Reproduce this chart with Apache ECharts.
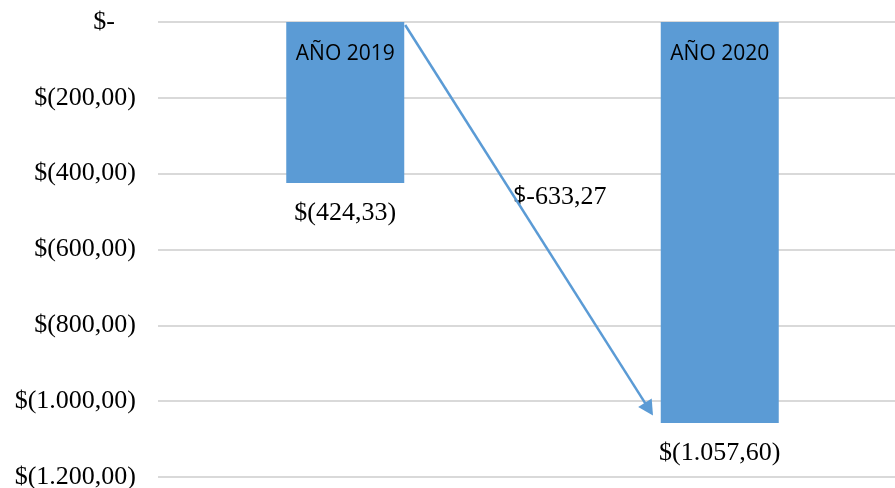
<!DOCTYPE html>
<html>
<head>
<meta charset="utf-8">
<script src="https://cdn.jsdelivr.net/npm/echarts@6/dist/echarts.min.js"></script>
<style>
  html, body { margin: 0; padding: 0; background: #fff; }
  #chart { width: 895px; height: 488px; }
</style>
</head>
<body>
<div id="chart"></div>
<script>
// data
const categories = ['AÑO 2019', 'AÑO 2020'];
const values = [-424.33, -1057.60];
const yTickValues = [0, -200, -400, -600, -800, -1000, -1200];
const yTickLabels = ['$-', '$(200,00)', '$(400,00)', '$(600,00)', '$(800,00)', '$(1.000,00)', '$(1.200,00)'];
// arrow between the two years, in [category position, value]
const arrowFrom = [0.16, -8];
const arrowTo = [0.811, -1021];
const changeLabelAt = [0.573, -461];

const BLUE = '#5b9bd5';
const SERIF = '"Liberation Serif", "Times New Roman", serif';
const SANS = '"Open Sans", "Liberation Sans", sans-serif';

const money = v => {
  const abs = Math.abs(v).toFixed(2).split('.');
  const int = abs[0].replace(/\B(?=(\d{3})+(?!\d))/g, '.');
  return int + ',' + abs[1];
};

const change = values[1] - values[0];

const chart = echarts.init(document.getElementById('chart'));

const option = {
  animation: false,
  grid: { left: 158, top: 22, right: -12, bottom: 11, outerBoundsMode: 'none', containLabel: false },
  xAxis: [
    {
      type: 'category',
      data: categories,
      position: 'top',
      z: 10,
      axisLine: { show: false },
      axisTick: { show: false },
      axisLabel: {
        inside: true,
        margin: 22,
        fontFamily: SANS,
        fontSize: 21,
        color: '#000'
      }
    },
    { type: 'value', min: -0.5, max: 1.5, show: false }
  ],
  yAxis: {
    type: 'value',
    min: -1200,
    max: 0,
    interval: 200,
    axisLine: { show: false },
    axisTick: { show: false },
    splitLine: { lineStyle: { color: '#d9d9d9', width: 2 } },
    axisLabel: {
      margin: 22,
      fontFamily: SERIF,
      fontSize: 26,
      color: '#000',
      formatter: v => {
        const i = yTickValues.indexOf(v);
        const txt = i >= 0 ? yTickLabels[i] : '';
        return v === 0 ? '{z|' + txt + '}' : txt;
      },
      rich: {
        z: { fontFamily: SERIF, fontSize: 26, color: '#000', padding: [0, 21, 0, 0] }
      }
    }
  },
  series: [
    {
      type: 'bar',
      data: values,
      barWidth: 118,
      itemStyle: { color: BLUE },
      label: {
        show: true,
        position: 'bottom',
        distance: 17,
        fontFamily: SERIF,
        fontSize: 26,
        color: '#000',
        formatter: p => '$(' + money(p.value) + ')'
      }
    },
    {
      type: 'scatter',
      xAxisIndex: 1,
      symbolSize: 0,
      silent: true,
      itemStyle: { opacity: 1 },
      data: [changeLabelAt],
      label: {
        show: true,
        position: 'inside',
        color: '#000',
        formatter: () => '{s|$}{n|-' + money(change) + '}',
        rich: {
          s: { fontFamily: SANS, fontSize: 23, color: '#000' },
          n: { fontFamily: SERIF, fontSize: 26, color: '#000' }
        }
      },
      markLine: {
        silent: true,
        symbol: ['none', 'triangle'],
        symbolSize: [16, 15],
        label: { show: false },
        lineStyle: { color: BLUE, width: 2.5, type: 'solid', opacity: 1 },
        data: [[{ coord: arrowFrom }, { coord: arrowTo }]]
      }
    }
  ]
};

chart.setOption(option);
</script>
</body>
</html>
